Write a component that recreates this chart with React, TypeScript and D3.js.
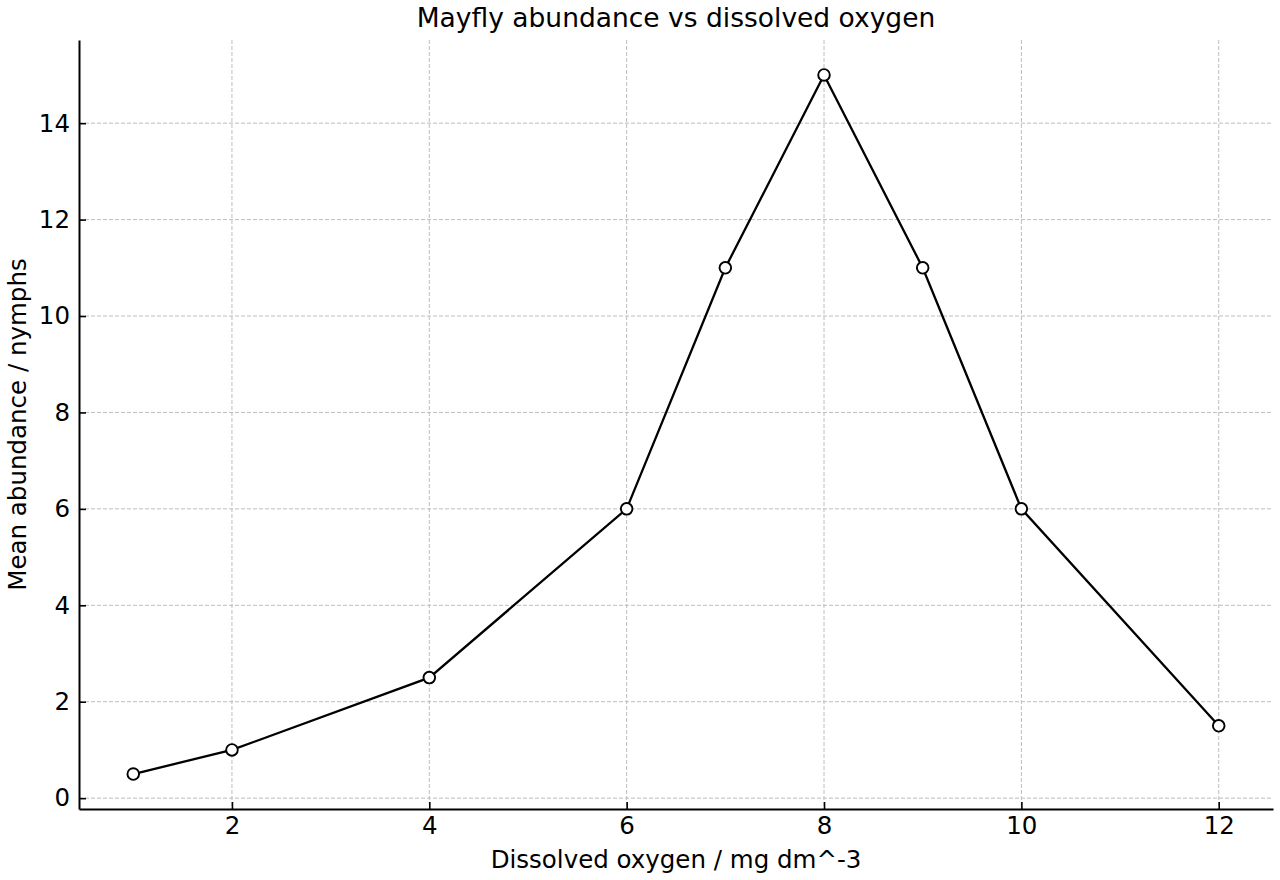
import React, { useEffect, useRef } from 'react';
import * as d3 from 'd3';

// Dissolved oxygen (mg dm^-3) and mean abundance of mayfly nymphs
const oxygen = [1, 2, 4, 6, 7, 8, 9, 10, 12];
const abundance = [0.5, 1, 2.5, 6, 11, 15, 11, 6, 1.5];
const xTicks = [2, 4, 6, 8, 10, 12];
const yTicks = [0, 2, 4, 6, 8, 10, 12, 14];

const App = () => {
  const ref = useRef<SVGSVGElement>(null);

  useEffect(() => {
    const svg = d3.select(ref.current);
    svg.selectAll('*').remove();

    const width = 1280;
    const height = 880;
    const margin = { top: 40, right: 7, bottom: 71, left: 79 };
    const font = 'DejaVu Sans, sans-serif';

    // matplotlib style 5% padding around the data
    const xPad = (12 - 1) * 0.05;
    const yPad = (15 - 0.5) * 0.05;
    const x = d3.scaleLinear()
      .domain([1 - xPad, 12 + xPad])
      .range([margin.left, width - margin.right]);
    const y = d3.scaleLinear()
      .domain([0.5 - yPad, 15 + yPad])
      .range([height - margin.bottom, margin.top]);

    const data = oxygen.map((o, i) => ({ o, a: abundance[i] }));

    // Grid
    const grid = svg.append('g')
      .attr('stroke', '#bdbdbd')
      .attr('stroke-width', 1)
      .attr('stroke-dasharray', '4,2');
    grid.selectAll('.vx')
      .data(xTicks)
      .enter()
      .append('line')
      .attr('x1', d => x(d))
      .attr('x2', d => x(d))
      .attr('y1', margin.top)
      .attr('y2', height - margin.bottom);
    grid.selectAll('.hy')
      .data(yTicks)
      .enter()
      .append('line')
      .attr('x1', margin.left)
      .attr('x2', width - margin.right)
      .attr('y1', d => y(d))
      .attr('y2', d => y(d));

    // X axis
    const xAxis = svg.append('g')
      .attr('transform', `translate(0, ${height - margin.bottom})`)
      .call(d3.axisBottom(x).tickValues(xTicks).tickSizeInner(-7).tickSizeOuter(0).tickPadding(8));
    xAxis.select('.domain').attr('stroke', '#000').attr('stroke-width', 2);
    xAxis.selectAll('.tick line').attr('stroke-width', 1.6);
    xAxis.selectAll('text')
      .style('font-family', font)
      .style('font-size', '24.5px')
      .attr('fill', '#000');

    // Y axis
    const yAxis = svg.append('g')
      .attr('transform', `translate(${margin.left}, 0)`)
      .call(d3.axisLeft(y).tickValues(yTicks).tickSizeInner(-7).tickSizeOuter(0).tickPadding(9));
    yAxis.select('.domain').attr('stroke', '#000').attr('stroke-width', 2);
    yAxis.selectAll('.tick line').attr('stroke-width', 1.6);
    yAxis.selectAll('text')
      .style('font-family', font)
      .style('font-size', '24.5px')
      .attr('fill', '#000');

    // Line
    const line = d3.line<{ o: number; a: number }>()
      .x(d => x(d.o))
      .y(d => y(d.a));
    svg.append('path')
      .datum(data)
      .attr('fill', 'none')
      .attr('stroke', '#000')
      .attr('stroke-width', 2.3)
      .attr('d', line);

    // Markers
    svg.selectAll('.pt')
      .data(data)
      .enter()
      .append('circle')
      .attr('cx', d => x(d.o))
      .attr('cy', d => y(d.a))
      .attr('r', 5.8)
      .attr('fill', '#fff')
      .attr('stroke', '#000')
      .attr('stroke-width', 1.9);

    // Title
    svg.append('text')
      .attr('x', (margin.left + width - margin.right) / 2)
      .attr('y', 27)
      .attr('text-anchor', 'middle')
      .style('font-family', font)
      .style('font-size', '26.5px')
      .text('Mayfly abundance vs dissolved oxygen');

    // X label
    svg.append('text')
      .attr('x', (margin.left + width - margin.right) / 2)
      .attr('y', 868)
      .attr('text-anchor', 'middle')
      .style('font-family', font)
      .style('font-size', '24.5px')
      .text('Dissolved oxygen / mg dm^-3');

    // Y label
    svg.append('text')
      .attr('transform', 'rotate(-90)')
      .attr('x', -(margin.top + height - margin.bottom) / 2)
      .attr('y', 26)
      .attr('text-anchor', 'middle')
      .style('font-family', font)
      .style('font-size', '24.5px')
      .text('Mean abundance / nymphs');
  }, []);

  return (
    <svg
      ref={ref}
      width={1280}
      height={880}
      style={{ position: 'absolute', left: 0, top: 0, background: '#fff' }}
    />
  );
};

export default App;
